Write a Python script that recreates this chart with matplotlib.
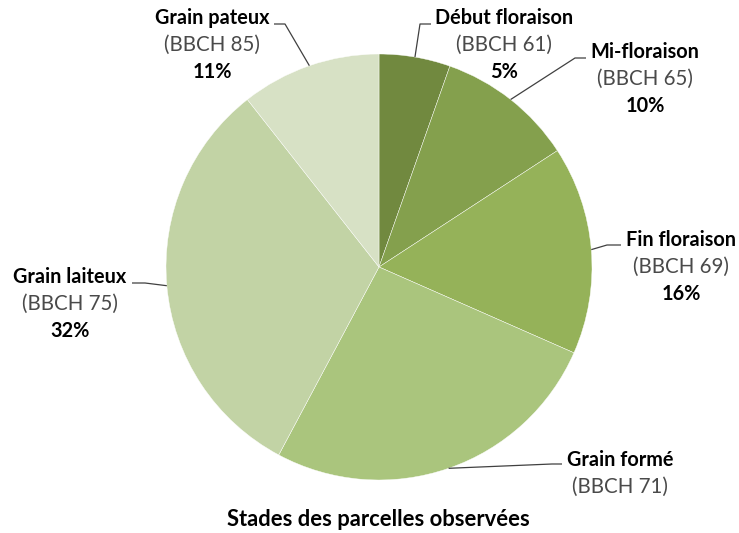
import matplotlib.pyplot as plt
import numpy as np

plt.rcParams['font.family'] = ['Lato', 'DejaVu Sans']

# --- data ---
stades = ["Début floraison", "Mi-floraison", "Fin floraison",
          "Grain formé", "Grain laiteux", "Grain pateux"]
bbch = ["(BBCH 61)", "(BBCH 65)", "(BBCH 69)", "(BBCH 71)", "(BBCH 75)", "(BBCH 85)"]
parts = [5.4, 10.4, 15.8, 26.2, 31.6, 10.6]
show_pct = [True, True, True, False, True, True]
colors = ["#71893f", "#84a04d", "#95b259", "#aac57d", "#c2d3a5", "#d7e1c5"]

W, H = 739, 533
CX, CY, R = 379, H - 267, 213

# label layout (pixel coords, y measured from top): text center x, first line y,
# elbow point, end of leader near the text
label_pos = [
    (504, 18, (420, 24), (431, 24)),
    (645, 52, (575, 58), (586, 58)),
    (681, 240, (607, 245), (621, 245)),
    (620, 460, (552, 464), (562, 464)),
    (70, 277, (145, 283), (132, 283)),
    (212, 18, (285, 24), (274, 24)),
]

fig = plt.figure(figsize=(W / 100, H / 100), dpi=100)
ax = fig.add_axes([0, 0, 1, 1])

wedges, _ = ax.pie(parts, colors=colors, startangle=90, counterclock=False,
                   radius=R, center=(CX, CY),
                   wedgeprops=dict(edgecolor='white', linewidth=0.3))
ax.set_xlim(0, W)
ax.set_ylim(0, H)
ax.set_aspect('equal')
ax.axis('off')

for i, w in enumerate(wedges):
    mid = np.deg2rad((w.theta1 + w.theta2) / 2)
    ax_, ay_ = CX + R * np.cos(mid), CY + R * np.sin(mid)
    tx, ty, elbow, end = label_pos[i]
    ax.plot([ax_, elbow[0], end[0]], [ay_, H - elbow[1], H - end[1]],
            color='#404040', linewidth=0.9, solid_capstyle='butt')
    ax.text(tx, H - ty, stades[i], ha='center', va='center',
            fontsize=14.3, fontweight='bold', color='black')
    ax.text(tx, H - ty - 27, bbch[i], ha='center', va='center',
            fontsize=14.8, color='#4a4a4a')
    if show_pct[i]:
        ax.text(tx, H - ty - 54, f"{round(parts[i])}%", ha='center', va='center',
                fontsize=14.3, fontweight='bold', color='black')

ax.text(378, H - 519, "Stades des parcelles observées", ha='center', va='center',
        fontsize=15.8, fontweight='bold', color='black')

fig.savefig('out.png', dpi=100)
